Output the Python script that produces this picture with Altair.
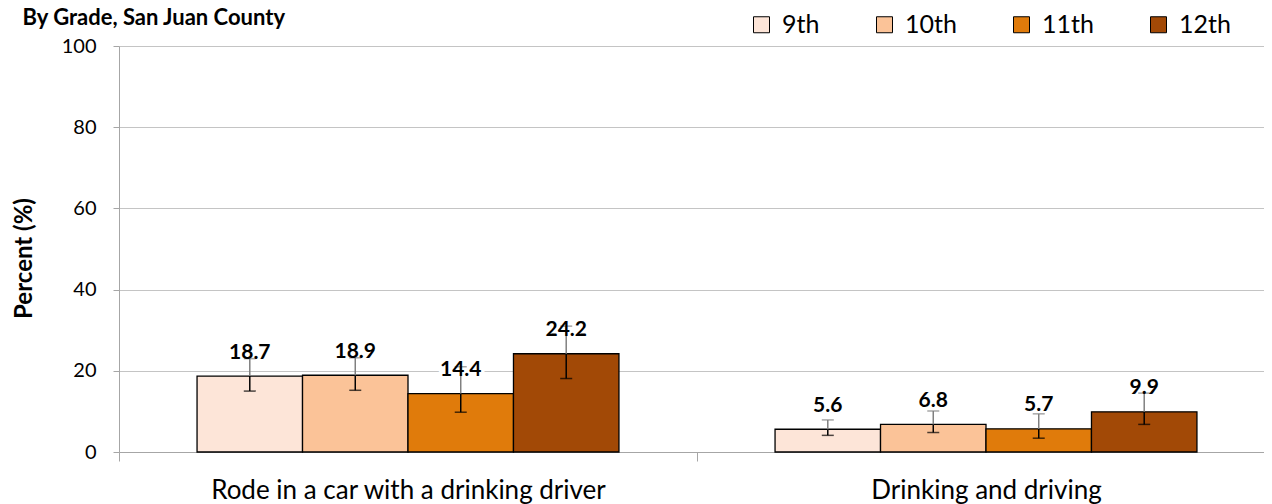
import altair as alt
import pandas as pd

categories = ["Rode in a car with a drinking driver", "Drinking and driving"]
grades = ["9th", "10th", "11th", "12th"]
colors = ["#FDE5D8", "#FBC398", "#E07B0B", "#A24906"]

values_rode = [18.7, 18.9, 14.4, 24.2]
lower_rode = [15.0, 15.2, 9.8, 18.1]
upper_rode = [23.0, 23.2, 21.0, 31.0]

values_dd = [5.6, 6.8, 5.7, 9.9]
lower_dd = [4.1, 4.8, 3.4, 6.8]
upper_dd = [7.9, 10.1, 9.4, 14.5]

title_text = "By Grade, San Juan County"
y_ticks = [0, 20, 40, 60, 80, 100]

rows = []
for cat, vals, los, his in [
    (categories[0], values_rode, lower_rode, upper_rode),
    (categories[1], values_dd, lower_dd, upper_dd),
]:
    for g, v, lo, hi in zip(grades, vals, los, his):
        rows.append({"category": cat, "grade": g, "value": v, "lo": lo, "hi": hi,
                     "label": f"{v:.1f}"})
df = pd.DataFrame(rows)

AXIS_GRAY = "#a6a6a6"
FONT = "Lato"

x_enc = alt.X(
    "category:N",
    sort=categories,
    scale=alt.Scale(range=[0, 1156], paddingInner=0, paddingOuter=0),
    axis=alt.Axis(
        title=None, labelAngle=0, labelFont=FONT, labelFontSize=26, labelColor="#000",
        labelLimit=0, tickBand="extent", tickSize=9, tickColor=AXIS_GRAY,
        domainColor=AXIS_GRAY, labelBaseline="middle", labelPadding=29, grid=False,
    ),
)
xo_enc = alt.XOffset("grade:N", sort=grades,
                     scale=alt.Scale(paddingInner=0, paddingOuter=0.74))
y_scale = alt.Scale(domain=[0, 100])

base = alt.Chart(df)

bars = base.mark_bar(stroke="black", strokeWidth=1.3).encode(
    x=x_enc,
    xOffset=xo_enc,
    y=alt.Y(
        "value:Q", scale=y_scale,
        axis=alt.Axis(
            values=y_ticks, title="Percent (%)", titleFont=FONT, titleFontSize=24,
            titleFontWeight="bold", titleColor="#000", titleAngle=270,
            titleX=-95, titleY=212, titleAlign="center", titleBaseline="middle",
            labelFont=FONT, labelFontSize=20, labelColor="#000", labelPadding=17,
            tickSize=6, tickColor=AXIS_GRAY, domainColor=AXIS_GRAY,
            gridColor="#c4c4c4", gridWidth=1,
        ),
    ),
    color=alt.Color(
        "grade:N", sort=grades,
        scale=alt.Scale(domain=grades, range=colors),
        legend=alt.Legend(
            title=None, orient="none", legendX=630, legendY=-34, direction="horizontal",
            symbolType="square", symbolSize=256, symbolStrokeColor="black",
            symbolStrokeWidth=1, symbolOpacity=1, labelFont=FONT, labelFontSize=25,
            labelColor="#000", labelOffset=8, columnPadding=52, padding=0,
        ),
    ),
)

halo = base.mark_text(
    dy=-23.5, font=FONT, fontSize=21, fontWeight="bold", baseline="middle",
    stroke="white", strokeWidth=7, fill="white",
).encode(x=x_enc, xOffset=xo_enc, y=alt.Y("value:Q", scale=y_scale), text="label:N")

err_lo = base.mark_rule(color="black", strokeWidth=1.5).encode(
    x=x_enc, xOffset=xo_enc, y=alt.Y("lo:Q", scale=y_scale), y2="value:Q")
err_hi = base.mark_rule(color="#808080", strokeWidth=1.5).encode(
    x=x_enc, xOffset=xo_enc, y=alt.Y("value:Q", scale=y_scale), y2="hi:Q")
cap_lo = base.mark_tick(color="black", size=12, thickness=1.5).encode(
    x=x_enc, xOffset=xo_enc, y=alt.Y("lo:Q", scale=y_scale))
cap_hi = base.mark_tick(color="#808080", size=12, thickness=1.5).encode(
    x=x_enc, xOffset=xo_enc, y=alt.Y("hi:Q", scale=y_scale))

labels = base.mark_text(
    dy=-23.5, font=FONT, fontSize=21, fontWeight="bold", baseline="middle", color="black",
).encode(x=x_enc, xOffset=xo_enc, y=alt.Y("value:Q", scale=y_scale), text="label:N")

title = alt.Chart(pd.DataFrame({"t": [title_text]})).mark_text(
    align="right", baseline="alphabetic", font=FONT, fontSize=22, fontWeight="bold",
    color="black",
).encode(text="t:N", x=alt.value(166), y=alt.value(-21))

chart = alt.layer(bars, halo, err_lo, err_hi, cap_lo, cap_hi, labels, title).properties(
    width=1145, height=406,
    autosize=alt.AutoSizeParams(type="none"),
    padding={"left": 111, "top": 38, "right": 0, "bottom": 52},
).configure_view(stroke=None).configure_axis(domainWidth=1, tickWidth=1)

chart.save("out.html", embed_options={"renderer": "svg", "actions": False})
